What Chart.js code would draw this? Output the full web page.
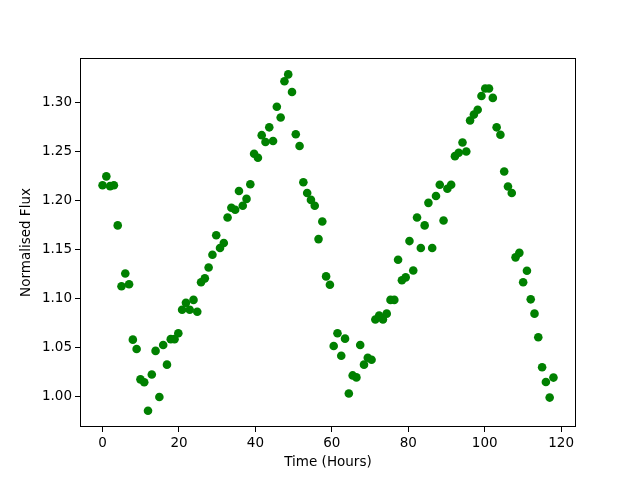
<!DOCTYPE html>
<html>
<head>
<meta charset="utf-8">
<script src="https://cdn.jsdelivr.net/npm/chart.js@4/dist/chart.umd.min.js"></script>
<style>
html,body{margin:0;padding:0;background:#fff;}
#wrap{width:640px;height:480px;}
</style>
</head>
<body>
<div id="wrap"><canvas id="c" width="640" height="480"></canvas></div>
<script>
const timeHours = [0.00,0.99,1.98,2.97,3.97,4.96,5.95,6.94,7.93,8.92,9.92,10.91,11.90,12.89,13.88,14.87,15.87,16.86,17.85,18.84,
19.83,20.82,21.82,22.81,23.80,24.79,25.78,26.77,27.76,28.76,29.75,30.74,31.73,32.72,33.71,34.71,35.70,36.69,37.68,38.67,
39.66,40.66,41.65,42.64,43.63,44.62,45.61,46.61,47.60,48.59,49.58,50.57,51.56,52.55,53.55,54.54,55.53,56.52,57.51,58.50,
59.50,60.49,61.48,62.47,63.46,64.45,65.45,66.44,67.43,68.42,69.41,70.40,71.39,72.39,73.38,74.37,75.36,76.35,77.34,78.34,
79.33,80.32,81.31,82.30,83.29,84.29,85.28,86.27,87.26,88.25,89.24,90.24,91.23,92.22,93.21,94.20,95.19,96.18,97.18,98.17,
99.16,100.15,101.14,102.13,103.13,104.12,105.11,106.10,107.09,108.08,109.08,110.07,111.06,112.05,113.04,114.03,115.03,116.02,117.01,118.00];
const normalisedFlux = [1.216,1.225,1.215,1.216,1.175,1.113,1.126,1.115,1.0585,1.049,1.018,1.015,0.986,1.023,1.047,1.000,1.053,1.033,1.059,1.059,
1.065,1.089,1.096,1.089,1.099,1.087,1.117,1.121,1.132,1.145,1.165,1.152,1.157,1.183,1.193,1.191,1.210,1.195,1.202,1.217,
1.248,1.244,1.267,1.260,1.275,1.261,1.296,1.285,1.322,1.329,1.311,1.268,1.256,1.219,1.208,1.201,1.195,1.161,1.179,1.123,
1.1145,1.052,1.065,1.042,1.0595,1.0035,1.022,1.020,1.053,1.033,1.040,1.038,1.079,1.083,1.079,1.085,1.099,1.099,1.140,1.119,
1.122,1.159,1.129,1.183,1.152,1.175,1.198,1.152,1.205,1.2165,1.180,1.2124,1.2165,1.2456,1.249,1.2596,1.2504,1.282,1.288,1.293,
1.307,1.3146,1.3146,1.305,1.275,1.2674,1.230,1.2147,1.208,1.1424,1.147,1.117,1.1288,1.0996,1.085,1.061,1.0303,1.0153,0.9994,1.0198];
const xTickValues = [0,20,40,60,80,100,120];
const yTickValues = [1.00,1.05,1.10,1.15,1.20,1.25,1.30];
const xLabel = 'Time (Hours)';
const yLabel = 'Normalised Flux';

const points = timeHours.map((t,i)=>({x:t,y:normalisedFlux[i]}));

const frame = {
  id:'frame',
  afterDraw(chart){
    const {ctx, chartArea:a} = chart;
    ctx.save();
    ctx.strokeStyle='#000';
    ctx.lineWidth=1;
    ctx.strokeRect(Math.round(a.left)+0.5, Math.round(a.top)+0.5, Math.round(a.right-a.left)-1, Math.round(a.bottom-a.top)-1);
    ctx.restore();
  }
};

const font = {family:'"DejaVu Sans", sans-serif', size:13.5};

new Chart(document.getElementById('c'), {
  type:'scatter',
  data:{datasets:[{data:points, backgroundColor:'#008000', borderColor:'#008000', borderWidth:0, pointRadius:4.3, pointHoverRadius:4.3}]},
  options:{
    responsive:false, animation:false,
    devicePixelRatio:1,
    layout:{padding:{left:0,right:64,top:58,bottom:0}},
    plugins:{legend:{display:false}, tooltip:{enabled:false}},
    scales:{
      x:{
        type:'linear', min:-5.9, max:123.9,
        afterBuildTicks(s){ s.ticks = xTickValues.map(v=>({value:v})); },
        afterFit(s){ s.height = 53; },
        grid:{drawOnChartArea:false, drawTicks:true, tickLength:5, color:'#000'},
        border:{display:false},
        ticks:{color:'#000', font, padding:3, maxRotation:0, callback:v=>String(v)},
        title:{display:true, text:xLabel, color:'#000', font, padding:{top:0,bottom:9}}
      },
      y:{
        type:'linear', min:0.9694, max:1.3457,
        afterBuildTicks(s){ s.ticks = yTickValues.map(v=>({value:v})); },
        afterFit(s){ s.width = 80; },
        grid:{drawOnChartArea:false, drawTicks:true, tickLength:5, color:'#000'},
        border:{display:false},
        ticks:{color:'#000', font, padding:3, callback:v=>Number(v).toFixed(2)},
        title:{display:true, text:yLabel, color:'#000', font, padding:{top:18,bottom:0}}
      }
    }
  },
  plugins:[frame]
});
</script>
</body>
</html>
